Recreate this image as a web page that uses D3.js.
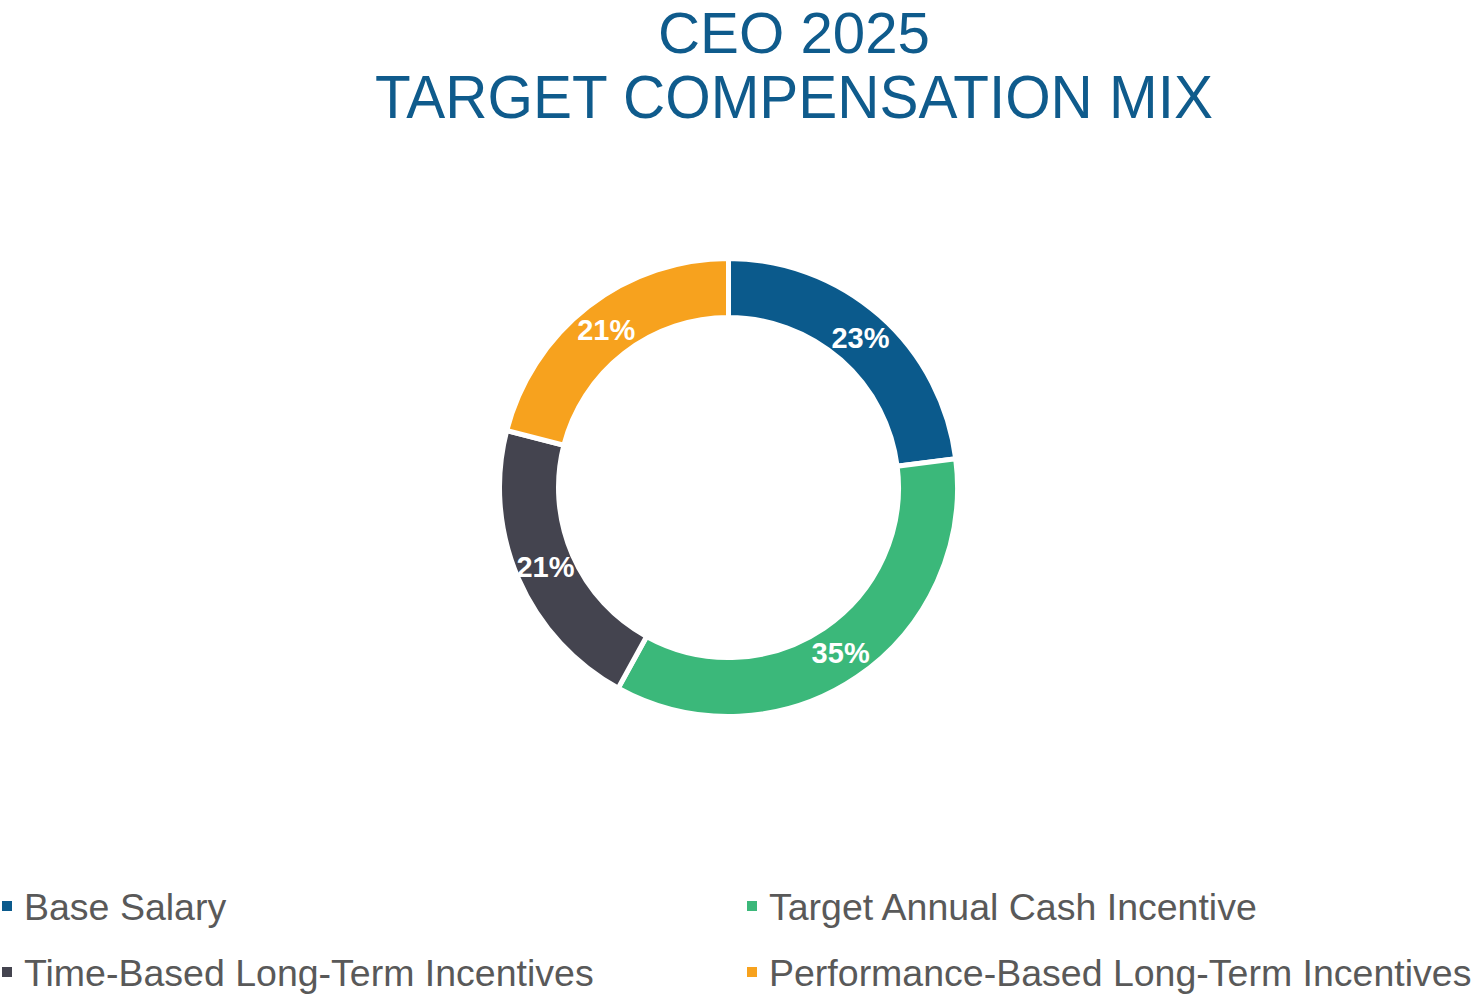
<!DOCTYPE html>
<html>
<head>
<meta charset="utf-8">
<script src="https://cdn.jsdelivr.net/npm/d3@7"></script>
<style>
  body { margin: 0; background: #fff; }
  text { font-family: "Liberation Sans", Arial, sans-serif; }
</style>
</head>
<body>
<div class="chart"></div>
<script>
var categories = ["Base Salary", "Target Annual Cash Incentive", "Time-Based Long-Term Incentives", "Performance-Based Long-Term Incentives"];
var values = [23, 35, 21, 21];
var colors = ["#0B5A8C", "#3BB87A", "#44444F", "#F7A21E"];
var titleLines = ["CEO 2025", "TARGET COMPENSATION MIX"];

var svgWidth = 1475;
var svgHeight = 997;

var svg = d3.select(".chart")
  .append("svg")
  .attr("width", svgWidth)
  .attr("height", svgHeight);

// title (two centred lines)
svg.append("text")
  .attr("x", 794)
  .attr("y", 53)
  .attr("text-anchor", "middle")
  .attr("font-size", 58)
  .attr("fill", "#0F5B8C")
  .attr("textLength", 272)
  .attr("lengthAdjust", "spacingAndGlyphs")
  .text(titleLines[0]);

svg.append("text")
  .attr("x", 794)
  .attr("y", 118)
  .attr("text-anchor", "middle")
  .attr("font-size", 61)
  .attr("fill", "#0F5B8C")
  .attr("textLength", 838)
  .attr("lengthAdjust", "spacingAndGlyphs")
  .text(titleLines[1]);

// donut
var data = categories.map(function(c, i) { return { name: c, value: values[i], color: colors[i] }; });

var pie = d3.pie()
  .sort(null)
  .value(function(d) { return d.value; });

var arc = d3.arc()
  .innerRadius(170)
  .outerRadius(229);

var chart = svg.append("g")
  .attr("transform", "translate(728.5,487.5)");

var slices = chart.selectAll("g.slice")
  .data(pie(data))
  .enter().append("g")
  .attr("class", "slice");

slices.append("path")
  .attr("d", arc)
  .attr("fill", function(d) { return d.data.color; })
  .attr("stroke", "#fff")
  .attr("stroke-width", 5);

slices.append("text")
  .attr("transform", function(d) { return "translate(" + arc.centroid(d) + ")"; })
  .attr("dy", "0.36em")
  .attr("text-anchor", "middle")
  .attr("font-size", 29)
  .attr("font-weight", "bold")
  .attr("fill", "#fff")
  .text(function(d) { return d.data.value + "%"; });

// legend, two columns
var legendPos = [[0, 920], [745, 920], [0, 986], [745, 986]];

var legend = svg.selectAll("g.legend")
  .data(data)
  .enter().append("g")
  .attr("class", "legend")
  .attr("transform", function(d, i) { return "translate(" + legendPos[i][0] + "," + legendPos[i][1] + ")"; });

legend.append("rect")
  .attr("x", 2)
  .attr("y", -19)
  .attr("width", 10)
  .attr("height", 10)
  .attr("fill", function(d) { return d.color; });

legend.append("text")
  .attr("x", 24)
  .attr("y", 0)
  .attr("font-size", 37.5)
  .attr("fill", "#595959")
  .text(function(d) { return d.name; });
</script>
</body>
</html>
